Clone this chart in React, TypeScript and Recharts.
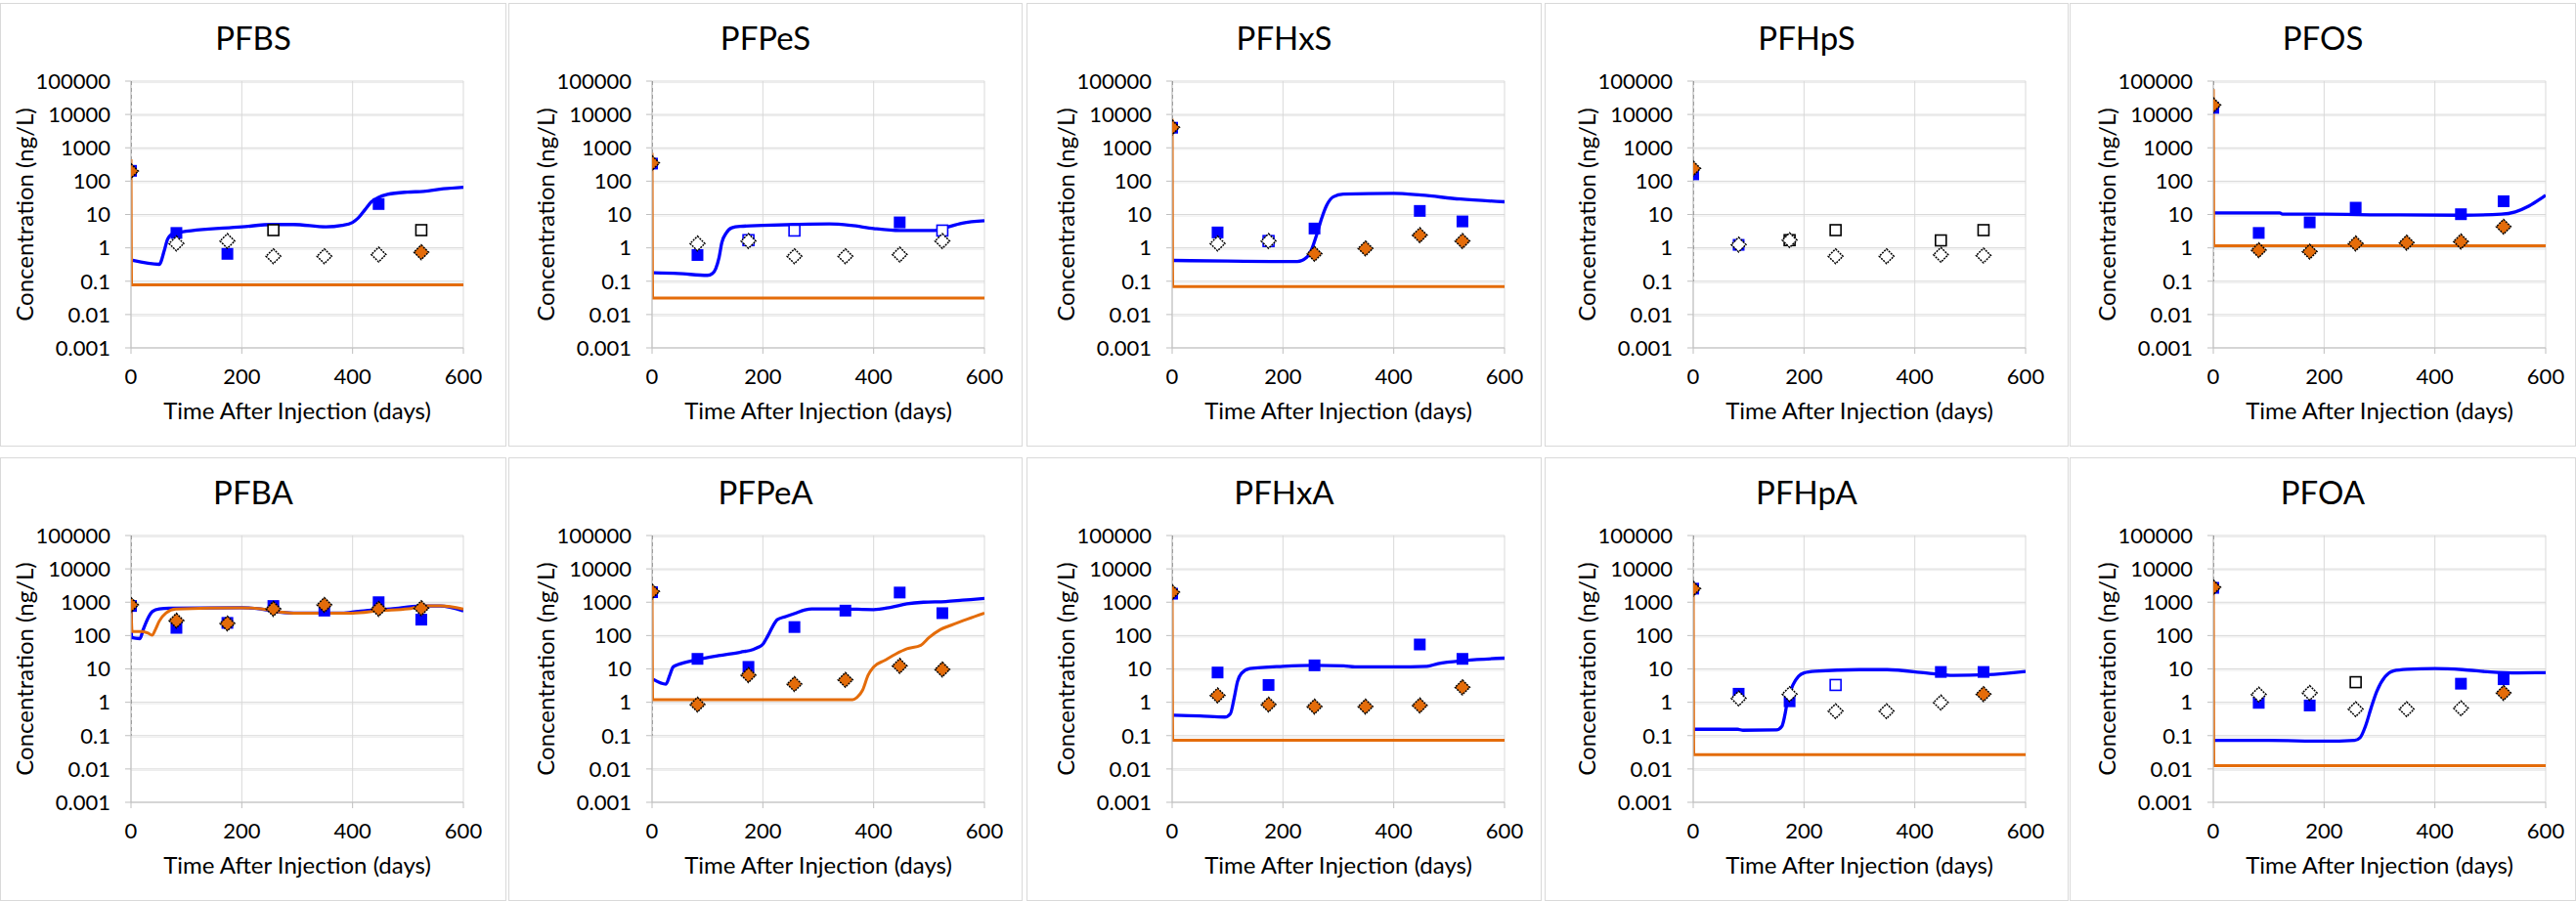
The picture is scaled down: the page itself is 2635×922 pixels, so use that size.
import { ComposedChart, Line, Scatter, XAxis, YAxis, CartesianGrid } from 'recharts';

// sampling days shared by all panels
const DAYS = [0, 82, 174, 257, 349, 447, 524];
const Y_TICKS = [0.001, 0.01, 0.1, 1, 10, 100, 1000, 10000, 100000];
const X_TICKS = [0, 200, 400, 600];
const _ = null;
const NONE: (number | null)[] = [];

// A = blue squares (detects), A_ND = open squares, A_NDB = open squares w/ blue edge
// B = orange diamonds (detects), B_ND = open diamonds
// MODEL_A = blue curve, MODEL_B = orange curve, [day, ng/L]

const PFBS_A = [204, 2.8, 0.66, _, _, 20.6, _];
const PFBS_A_ND = [_, _, _, 3.4, _, _, 3.4];
const PFBS_B = [200, _, _, _, _, _, 0.74];
const PFBS_B_ND = [_, 1.35, 1.6, 0.56, 0.56, 0.63, _];
const PFBS_MODEL_A = [[3, 0.42], [51, 0.32], [60, 0.82], [66, 1.8], [75, 2.65], [84, 2.85], [200, 4.25], [257, 5], [293, 5], [352, 4.25], [381, 4.7], [400, 5.8], [410, 7.8], [422, 13.7], [434, 24], [446, 32], [463, 40], [499, 47], [528, 49], [564, 59], [600, 66]];
const PFBS_MODEL_B = [[0, 450], [1, 0.078], [600, 0.078]];

const PFPES_A = [336, 0.61, _, _, _, 5.8, _];
const PFPES_A_NDB = [_, _, 1.7, 3.3, _, _, 3.3];
const PFPES_B = [350, _, _, _, _, _, _];
const PFPES_B_ND = [_, 1.35, 1.6, 0.56, 0.56, 0.63, 1.6];
const PFPES_MODEL_A = [[3, 0.178], [47, 0.17], [100, 0.15], [109, 0.17], [115, 0.24], [121, 0.52], [126, 1.45], [134, 2.8], [144, 4.0], [159, 4.4], [200, 4.7], [257, 5.0], [320, 5.2], [359, 4.7], [400, 3.8], [447, 3.3], [510, 3.3], [529, 4.0], [560, 5.5], [600, 6.5]];
const PFPES_MODEL_B = [[0, 700], [1, 0.031], [600, 0.031]];

const PFHXS_A = [4000, 2.9, _, 3.8, _, 12.8, 6.2];
const PFHXS_A_NDB = [_, _, 1.6, _, _, _, _];
const PFHXS_B = [4100, _, _, 0.66, 0.96, 2.4, 1.6];
const PFHXS_B_ND = [_, 1.35, 1.6, _, _, _, _];
const PFHXS_MODEL_A = [[2, 0.42], [100, 0.4], [200, 0.39], [226, 0.39], [243, 0.52], [252, 0.92], [261, 2.5], [270, 7.8], [279, 19], [291, 34], [309, 41], [400, 43], [450, 38], [520, 29], [600, 24]];
const PFHXS_MODEL_B = [[0, 7500], [1, 0.069], [600, 0.069]];

const PFHPS_A = [160, 1.23, _, _, _, _, _];
const PFHPS_A_ND = [_, _, 1.7, 3.4, _, 1.67, 3.4];
const PFHPS_B = [240, _, _, _, _, _, _];
const PFHPS_B_ND = [_, 1.25, 1.7, 0.56, 0.56, 0.62, 0.59];

const PFOS_A = [15800, 2.8, 5.8, 16, _, 10.2, 25];
const PFOS_B = [19000, 0.85, 0.77, 1.35, 1.43, 1.55, 4.3];
const PFOS_MODEL_A = [[2, 11.2], [120, 11.2], [125, 10.2], [200, 10.2], [300, 9.8], [450, 9.5], [520, 10.2], [545, 12], [570, 18], [590, 29], [600, 38]];
const PFOS_MODEL_B = [[0, 57000], [1, 1.15], [600, 1.15]];

const PFBA_A = [770, 170, 240, 770, 560, 1000, 300];
const PFBA_B = [830, 280, 230, 630, 830, 630, 660];
const PFBA_MODEL_A = [[0, 770], [1, 87], [16, 81], [22, 150], [31, 340], [39, 530], [51, 630], [69, 660], [200, 680], [234, 630], [257, 530], [293, 470], [381, 470], [410, 530], [446, 590], [469, 630], [522, 770], [558, 770], [600, 550]];
const PFBA_MODEL_B = [[0, 830], [2, 133], [20, 133], [31, 118], [38, 102], [44, 150], [51, 270], [63, 470], [81, 620], [200, 680], [234, 630], [269, 510], [300, 470], [400, 470], [450, 560], [500, 630], [530, 770], [560, 770], [600, 620]];

const PFPEA_A = [2000, 20, 11.5, 180, 560, 1950, 470];
const PFPEA_B = [2100, 0.85, 6.5, 3.5, 4.7, 12.3, 9.6];
const PFPEA_MODEL_A = [[2, 4.9], [25, 3.5], [32, 6.5], [38, 11.5], [47, 13.5], [82, 19], [120, 25], [160, 32], [182, 38], [191, 44], [200, 55], [209, 98], [218, 190], [226, 300], [241, 370], [259, 470], [276, 590], [288, 630], [340, 630], [400, 600], [430, 700], [460, 890], [490, 1000], [530, 1050], [560, 1150], [600, 1300]];
const PFPEA_MODEL_B = [[0, 2000], [1, 1.2], [362, 1.2], [370, 1.4], [380, 2.3], [390, 6.5], [400, 11.5], [420, 18], [440, 28], [460, 40], [485, 51], [500, 87], [520, 150], [540, 205], [570, 315], [600, 470]];

const PFHXA_A = [1800, 7.8, 3.3, 12.8, _, 54, 20];
const PFHXA_B = [2000, 1.6, 0.85, 0.74, 0.74, 0.8, 2.8];
const PFHXA_MODEL_A = [[2, 0.41], [50, 0.39], [95, 0.36], [105, 0.45], [112, 1.35], [118, 4.2], [125, 7.3], [140, 10.2], [200, 12], [257, 12.8], [310, 12.3], [330, 11.5], [400, 11.5], [460, 12], [480, 14.4], [530, 18], [600, 21]];
const PFHXA_MODEL_B = [[0, 1800], [1, 0.072], [600, 0.072]];

const PFHPA_A = [2550, 1.8, 1.07, _, _, 8.1, 8.1];
const PFHPA_A_NDB = [_, _, _, 3.3, _, _, _];
const PFHPA_B = [2550, _, _, _, _, _, 1.75];
const PFHPA_B_ND = [_, 1.3, 1.75, 0.54, 0.54, 0.98, _];
const PFHPA_MODEL_A = [[2, 0.155], [80, 0.155], [90, 0.145], [150, 0.148], [160, 0.19], [165, 0.38], [170, 1.07], [180, 3.3], [190, 6], [200, 7.6], [220, 8.5], [300, 9.5], [350, 9.5], [420, 7.6], [470, 6.4], [530, 6.7], [600, 8.4]];
const PFHPA_MODEL_B = [[0, 2550], [1, 0.027], [600, 0.027]];

const PFOA_A = [2700, 0.96, 0.8, _, _, 3.6, 4.9];
const PFOA_A_ND = [_, _, _, 4.0, _, _, _];
const PFOA_B = [2800, _, _, _, _, _, 1.9];
const PFOA_B_ND = [_, 1.7, 1.9, 0.62, 0.62, 0.66, _];
const PFOA_MODEL_A = [[2, 0.072], [100, 0.072], [200, 0.068], [255, 0.072], [265, 0.087], [275, 0.2], [285, 0.69], [295, 2.1], [310, 5.8], [325, 8.7], [350, 9.7], [400, 10.2], [450, 9.5], [500, 8.1], [550, 7.6], [600, 7.7]];
const PFOA_MODEL_B = [[0, 2800], [1, 0.0125], [600, 0.0125]];

const INJECTION = [[0, 100000], [0, 0.1]];

const PANELS = [
  { name: 'PFBS', a: PFBS_A, aNd: PFBS_A_ND, aNdb: NONE, b: PFBS_B, bNd: PFBS_B_ND, modelA: PFBS_MODEL_A, modelB: PFBS_MODEL_B },
  { name: 'PFPeS', a: PFPES_A, aNd: NONE, aNdb: PFPES_A_NDB, b: PFPES_B, bNd: PFPES_B_ND, modelA: PFPES_MODEL_A, modelB: PFPES_MODEL_B },
  { name: 'PFHxS', a: PFHXS_A, aNd: NONE, aNdb: PFHXS_A_NDB, b: PFHXS_B, bNd: PFHXS_B_ND, modelA: PFHXS_MODEL_A, modelB: PFHXS_MODEL_B },
  { name: 'PFHpS', a: PFHPS_A, aNd: PFHPS_A_ND, aNdb: NONE, b: PFHPS_B, bNd: PFHPS_B_ND, modelA: [], modelB: [] },
  { name: 'PFOS', a: PFOS_A, aNd: NONE, aNdb: NONE, b: PFOS_B, bNd: NONE, modelA: PFOS_MODEL_A, modelB: PFOS_MODEL_B },
  { name: 'PFBA', a: PFBA_A, aNd: NONE, aNdb: NONE, b: PFBA_B, bNd: NONE, modelA: PFBA_MODEL_A, modelB: PFBA_MODEL_B },
  { name: 'PFPeA', a: PFPEA_A, aNd: NONE, aNdb: NONE, b: PFPEA_B, bNd: NONE, modelA: PFPEA_MODEL_A, modelB: PFPEA_MODEL_B },
  { name: 'PFHxA', a: PFHXA_A, aNd: NONE, aNdb: NONE, b: PFHXA_B, bNd: NONE, modelA: PFHXA_MODEL_A, modelB: PFHXA_MODEL_B },
  { name: 'PFHpA', a: PFHPA_A, aNd: NONE, aNdb: PFHPA_A_NDB, b: PFHPA_B, bNd: PFHPA_B_ND, modelA: PFHPA_MODEL_A, modelB: PFHPA_MODEL_B },
  { name: 'PFOA', a: PFOA_A, aNd: PFOA_A_ND, aNdb: NONE, b: PFOA_B, bNd: PFOA_B_ND, modelA: PFOA_MODEL_A, modelB: PFOA_MODEL_B },
];

// minor log gridlines (2..9 x each decade)
const MINOR_GRID: number[] = [];
for (let e = -3; e < 5; e++) {
  for (let m = 2; m <= 9; m++) MINOR_GRID.push(Number((m * Math.pow(10, e)).toPrecision(3)));
}

// layout
const PANEL_X = [0, 520, 1050, 1580, 2117];
const PANEL_W = [518, 526, 527, 536, 518];
const PLOT_X = [134, 667, 1199, 1732, 2264];
const ROW_Y = [3, 468];
const Y_AXIS_W = 140;
const PLOT_W = 340;
const PLOT_H = 273;
const PLOT_TOP = 83;
const CHART_W = 510;
const CHART_H = 460;

const FONT = 'Lato, "Open Sans", sans-serif';
const BLUE = '#0000ff';
const ORANGE = '#e46c0a';

const toPoints = (vals: (number | null)[]) =>
  DAYS.flatMap((d, i) => (vals[i] == null ? [] : [{ x: d, y: vals[i] as number }]));
const toLine = (pairs: number[][]) => pairs.map(([x, y]) => ({ x, y }));

const blueSquare = ({ cx, cy }: any) => (
  <rect x={cx - 6} y={cy - 6} width={12} height={12} fill={BLUE} />
);
const openSquare = (edge: string) => ({ cx, cy }: any) => (
  <rect x={cx - 5.5} y={cy - 5.5} width={11} height={11} fill="#fff" stroke={edge} strokeWidth={1.6} />
);
const diamond = (fill: string) => ({ cx, cy }: any) => (
  <polygon
    points={`${cx},${cy - 7.5} ${cx + 7.5},${cy} ${cx},${cy + 7.5} ${cx - 7.5},${cy}`}
    fill={fill}
    stroke="#000"
    strokeWidth={1.5}
    strokeDasharray="2 1"
  />
);

const yLabel = () => (
  <text
    x={30}
    y={PLOT_TOP + PLOT_H / 2}
    transform={`rotate(-90 30 ${PLOT_TOP + PLOT_H / 2})`}
    textAnchor="middle"
    dominantBaseline="central"
    fontFamily={FONT}
    fontSize={24}
    fill="#000"
  >
    Concentration (ng/L)
  </text>
);

const xLabel = () => (
  <text
    x={Y_AXIS_W + PLOT_W / 2}
    y={419}
    textAnchor="middle"
    dominantBaseline="central"
    fontFamily={FONT}
    fontSize={24}
    fill="#000"
  >
    Time After Injection (days)
  </text>
);

function Panel({ p, idx }: { p: (typeof PANELS)[number]; idx: number }) {
  const col = idx % 5;
  const row = Math.floor(idx / 5);
  const top = ROW_Y[row];
  const chartTop = top - 3;
  return (
    <>
      <div
        style={{
          position: 'absolute',
          left: PANEL_X[col],
          top,
          width: PANEL_W[col],
          height: 454,
          border: '1px solid #d9d9d9',
          boxSizing: 'border-box',
        }}
      />
      <div
        style={{
          position: 'absolute',
          left: PANEL_X[col],
          top: chartTop + 19,
          width: PANEL_W[col],
          textAlign: 'center',
          fontFamily: FONT,
          fontSize: 33,
          lineHeight: '38px',
          color: '#000',
        }}
      >
        {p.name}
      </div>
      <div style={{ position: 'absolute', left: PLOT_X[col] - Y_AXIS_W, top: chartTop }}>
        <ComposedChart
          width={CHART_W}
          height={CHART_H}
          margin={{ top: PLOT_TOP, right: CHART_W - Y_AXIS_W - PLOT_W, bottom: CHART_H - PLOT_TOP - PLOT_H - 80, left: 0 }}
        >
          <CartesianGrid horizontalValues={MINOR_GRID} vertical={false} stroke="#ececec" />
          <CartesianGrid horizontalValues={Y_TICKS} verticalValues={X_TICKS} stroke="#d9d9d9" />
          <XAxis
            type="number"
            dataKey="x"
            domain={[0, 600]}
            ticks={X_TICKS}
            allowDataOverflow
            height={80}
            tickSize={6}
            tickMargin={15}
            stroke="#bfbfbf"
            tick={{ fill: '#000', fontSize: 22, fontFamily: FONT }}
            label={xLabel}
          />
          <YAxis
            type="number"
            dataKey="y"
            scale="log"
            domain={[0.001, 100000]}
            ticks={Y_TICKS}
            allowDataOverflow
            width={Y_AXIS_W}
            tickSize={6}
            tickMargin={15}
            stroke="#bfbfbf"
            tick={{ fill: '#000', fontSize: 22, fontFamily: FONT }}
            tickFormatter={(v: number) => String(v)}
            label={yLabel}
          />
          <Line
            data={toLine(INJECTION)}
            dataKey="y"
            type="linear"
            stroke="#595959"
            strokeWidth={1.5}
            strokeDasharray="4 3"
            dot={false}
            isAnimationActive={false}
          />
          {p.modelA.length > 0 && (
            <Line
              data={toLine(p.modelA)}
              dataKey="y"
              type="monotone"
              stroke={BLUE}
              strokeWidth={3.3}
              dot={false}
              isAnimationActive={false}
            />
          )}
          {p.modelB.length > 0 && (
            <Line
              data={toLine(p.modelB)}
              dataKey="y"
              type="monotone"
              stroke={ORANGE}
              strokeWidth={3}
              dot={false}
              isAnimationActive={false}
            />
          )}
          <Scatter data={toPoints(p.a)} dataKey="y" shape={blueSquare} isAnimationActive={false} />
          <Scatter data={toPoints(p.aNd)} dataKey="y" shape={openSquare('#000')} isAnimationActive={false} />
          <Scatter data={toPoints(p.aNdb)} dataKey="y" shape={openSquare(BLUE)} isAnimationActive={false} />
          <Scatter data={toPoints(p.bNd)} dataKey="y" shape={diamond('#fff')} isAnimationActive={false} />
          <Scatter data={toPoints(p.b)} dataKey="y" shape={diamond(ORANGE)} isAnimationActive={false} />
        </ComposedChart>
      </div>
    </>
  );
}

export default function App() {
  return (
    <div style={{ position: 'relative', width: 2635, height: 922, overflow: 'hidden', background: '#fff' }}>
      <style>{'body{margin:0}'}</style>
      {PANELS.map((p, i) => (
        <Panel key={p.name} p={p} idx={i} />
      ))}
    </div>
  );
}
